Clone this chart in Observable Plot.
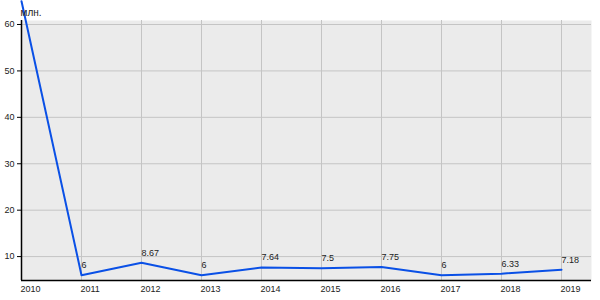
<!DOCTYPE html>
<html>
<head>
<meta charset="utf-8">
<script src="https://cdn.jsdelivr.net/npm/d3@7"></script>
<script src="https://cdn.jsdelivr.net/npm/@observablehq/plot@0.6"></script>
<style>
  html, body { margin: 0; padding: 0; background: #fff; }
  #chart svg { display: block; }
</style>
</head>
<body>
<div id="chart"></div>
<script>
const years = [2010, 2011, 2012, 2013, 2014, 2015, 2016, 2017, 2018, 2019];
const values = [65, 6, 8.67, 6, 7.64, 7.5, 7.75, 6, 6.33, 7.18];
const labels = ["65", "6", "8.67", "6", "7.64", "7.5", "7.75", "6", "6.33", "7.18"];
const yTicks = [10, 20, 30, 40, 50, 60];
const unitLabel = "млн.";

const data = years.map((y, i) => ({year: y, value: values[i], label: labels[i]}));
const yMin = 4.85, yMax = 60.86;

const chart = Plot.plot({
  width: 600,
  height: 300,
  marginLeft: 21,
  marginRight: 9,
  marginTop: 20,
  marginBottom: 20,
  style: {fontFamily: "'Liberation Sans', Arial, sans-serif", fontSize: "9px", color: "#222", background: "#fff"},
  x: {domain: [2010, 2019.5], axis: null, label: null},
  y: {domain: [yMin, yMax], axis: null, label: null},
  marks: [
    Plot.frame({fill: "#ebebeb", stroke: null}),
    Plot.gridY(yTicks, {stroke: "#c4c4c4", strokeOpacity: 1, strokeWidth: 1}),
    Plot.gridX(years.slice(1), {stroke: "#c4c4c4", strokeOpacity: 1, strokeWidth: 1}),
    Plot.axisY(yTicks, {anchor: "left", label: null, tickSize: 4, tickPadding: 3, fontSize: 9, stroke: "#000", fill: "#222"}),
    Plot.axisX(years, {anchor: "bottom", label: null, tickSize: 0, tickPadding: 5, fontSize: 9, textAnchor: "start", dx: -1, tickFormat: d => String(d), fill: "#222"}),
    Plot.ruleX([2010], {y1: yMin, y2: yMax, stroke: "#000", strokeWidth: 1.5}),
    Plot.ruleY([yMin], {stroke: "#000", strokeWidth: 1.5}),
    Plot.line(data, {x: "year", y: "value", stroke: "#0a50e6", strokeWidth: 2}),
    Plot.text(data.filter(d => d.value <= yMax), {x: "year", y: "value", text: "label", textAnchor: "start", dx: 0, dy: -10, fontSize: 9, fill: "#222"}),
    Plot.text([unitLabel], {x: 2010, y: yMax, text: d => d, textAnchor: "start", dx: -1, dy: -8, fontSize: 10, fill: "#222"})
  ]
});
document.getElementById("chart").appendChild(chart);
</script>
</body>
</html>
